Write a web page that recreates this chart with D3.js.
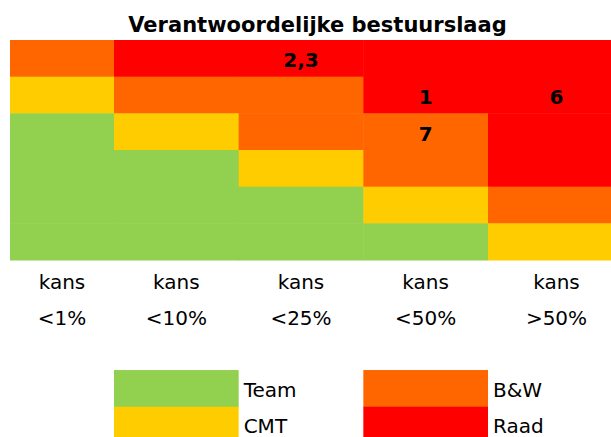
<!doctype html>
<html>
    <head>
        <script src="https://d3js.org/d3.v7.min.js"></script>
        <style type="text/css">
            body {
                margin:0;
                background:#fff;
            }
            svg {
                display:block;
            }
            text {
                font-family:"DejaVu Sans",Verdana,sans-serif;
                fill:#000;
            }
            .title {
                font-size:21px;
                font-weight:bold;
                text-anchor:middle;
            }
            .cellLabel {
                font-size:20px;
                font-weight:bold;
                text-anchor:middle;
            }
            .axisLabel {
                font-size:20px;
                text-anchor:middle;
            }
            .legendLabel {
                font-size:20px;
            }
        </style>
    </head>
    <body>
        <script>

            //levels of responsibility (legend order)
            var levels = ["Team","CMT","B&W","Raad"];
            var levelColors = ["#92D050","#FFCC00","#FF6600","#FF0000"];

            //probability columns
            var kansLabels = ["<1%","<10%","<25%","<50%",">50%"];

            //matrix of level index per row (top to bottom) and column
            var matrix = [
                [2,3,3,3,3],
                [1,2,2,3,3],
                [0,1,2,2,3],
                [0,0,1,2,3],
                [0,0,0,1,2],
                [0,0,0,0,1]
            ];

            //risk numbers placed in the cells
            var cellLabels = [
                {col:2, row:0, text:"2,3"},
                {col:3, row:1, text:"1"},
                {col:4, row:1, text:"6"},
                {col:3, row:2, text:"7"}
            ];

            //legend columns (level -> column / row in grid)
            var legendItems = [
                {level:0, col:1, row:9},
                {level:1, col:1, row:10},
                {level:2, col:3, row:9},
                {level:3, col:3, row:10}
            ];

            var width = 611, height = 437;

            var svg = d3.select("body").append("svg")
                .attr("width",width)
                .attr("height",height);

            //column edges: first column is narrower, last one runs off the page
            var x = d3.scaleLinear().domain([0,1,4,5]).range([10,114,488,625]);
            //spreadsheet-like rows
            var rowH = 36.67;
            var y = d3.scaleLinear().domain([0,1]).range([40,40+rowH]);

            var color = d3.scaleOrdinal().domain(d3.range(levels.length)).range(levelColors);

            //title
            svg.append("text")
                .attr("class","title")
                .attr("x",317.5)
                .attr("y",31.7)
                .text("Verantwoordelijke bestuurslaag");

            //grid cells
            var cells = [];
            matrix.forEach(function(r,ri) {
                r.forEach(function(v,ci) {
                    cells.push({row:ri, col:ci, level:v});
                });
            });

            svg.append("g")
                .selectAll("rect")
                .data(cells)
                .enter()
                .append("rect")
                .attr("x",function(d) { return x(d.col); })
                .attr("y",function(d) { return y(d.row); })
                .attr("width",function(d) { return x(d.col+1)-x(d.col)+0.5; })
                .attr("height",function(d) { return y(d.row+1)-y(d.row)+0.5; })
                .attr("fill",function(d) { return color(d.level); });

            //numbers inside cells
            svg.append("g")
                .selectAll("text")
                .data(cellLabels)
                .enter()
                .append("text")
                .attr("class","cellLabel")
                .attr("x",function(d) { return (x(d.col)+x(d.col+1))/2; })
                .attr("y",function(d) { return y(d.row+1)-9.5; })
                .text(function(d) { return d.text; });

            //axis labels below the grid (two lines)
            var axis = svg.append("g");
            axis.selectAll("text.kans")
                .data(kansLabels)
                .enter()
                .append("text")
                .attr("class","axisLabel kans")
                .attr("x",function(d,i) { return (x(i)+x(i+1))/2; })
                .attr("y",y(7)-8)
                .text("kans");
            axis.selectAll("text.pct")
                .data(kansLabels)
                .enter()
                .append("text")
                .attr("class","axisLabel pct")
                .attr("x",function(d,i) { return (x(i)+x(i+1))/2; })
                .attr("y",y(8)-8.6)
                .text(function(d) { return d; });

            //legend
            var legend = svg.append("g")
                .selectAll("g")
                .data(legendItems)
                .enter()
                .append("g");

            legend.append("rect")
                .attr("x",function(d) { return x(d.col); })
                .attr("y",function(d) { return y(d.row); })
                .attr("width",function(d) { return x(d.col+1)-x(d.col); })
                .attr("height",rowH+0.5)
                .attr("fill",function(d) { return color(d.level); });

            legend.append("text")
                .attr("class","legendLabel")
                .attr("x",function(d) { return x(d.col+1)+5; })
                .attr("y",function(d) { return y(d.row+1)-10; })
                .text(function(d) { return levels[d.level]; });

        </script>
    </body>
</html>
